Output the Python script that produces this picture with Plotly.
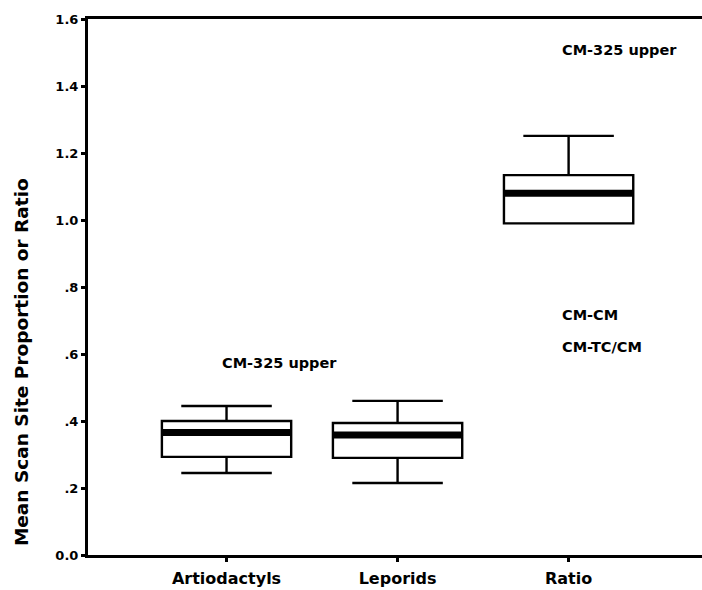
import plotly.graph_objects as go

# Summary statistics for each group
categories = ["Artiodactyls", "Leporids", "Ratio"]
lower_whisker = [0.245, 0.215, 0.990]
q1_values = [0.293, 0.290, 0.990]
medians = [0.366, 0.358, 1.080]
q3_values = [0.400, 0.394, 1.134]
upper_whisker = [0.445, 0.460, 1.251]

# Labelled extreme cases: (group index, value, label)
outlier_groups = [0, 2, 2, 2]
outlier_values = [0.573, 1.507, 0.716, 0.621]
outlier_labels = ["CM-325 upper", "CM-325 upper", "CM-CM", "CM-TC/CM"]

y_ticks = [0.0, 0.2, 0.4, 0.6, 0.8, 1.0, 1.2, 1.4, 1.6]
y_tick_text = ["0.0", ".2", ".4", ".6", ".8", "1.0", "1.2", "1.4", "1.6"]
y_title = "Mean Scan Site Proportion or Ratio"

FONT = "DejaVu Sans, Verdana, sans-serif"
BOX_WIDTH = 0.756

fig = go.Figure()

for i, name in enumerate(categories):
    fig.add_trace(go.Box(
        x=[i], q1=[q1_values[i]], median=[medians[i]], q3=[q3_values[i]],
        lowerfence=[lower_whisker[i]], upperfence=[upper_whisker[i]],
        width=BOX_WIDTH, whiskerwidth=0.7, boxpoints=False,
        fillcolor="white", line=dict(color="black", width=2.4),
        name=name, showlegend=False, hoverinfo="skip",
    ))
    # heavy median bar
    fig.add_trace(go.Scatter(
        x=[i - BOX_WIDTH / 2, i + BOX_WIDTH / 2], y=[medians[i], medians[i]],
        mode="lines", line=dict(color="black", width=7),
        showlegend=False, hoverinfo="skip",
    ))

# Case labels
offsets = {0: -0.04, 2: -0.05}
for g, v, lab in zip(outlier_groups, outlier_values, outlier_labels):
    fig.add_annotation(
        x=g + offsets[g], y=v, xref="x", yref="y", text=lab, showarrow=False,
        xanchor="left", yanchor="middle",
        font=dict(family=FONT, size=14.5, color="black", weight="bold"),
    )

# Vertical axis title
fig.add_annotation(
    x=-0.109, y=0.36, xref="paper", yref="paper", text=y_title,
    textangle=-90, showarrow=False, xanchor="center", yanchor="middle",
    font=dict(family=FONT, size=18.5, color="black", weight="bold"),
)

fig.update_layout(
    width=702, height=590,
    margin=dict(l=88, r=0, t=19, b=35),
    paper_bgcolor="white", plot_bgcolor="white",
    showlegend=False,
    font=dict(family=FONT, color="black"),
)

fig.update_xaxes(
    range=[-0.81, 2.78], tickmode="array", tickvals=[0, 1, 2], ticktext=categories,
    showgrid=False, zeroline=False, showline=True, linecolor="black", linewidth=3,
    mirror=True, ticks="outside", ticklen=4, tickwidth=3, tickcolor="black",
    ticklabelstandoff=3,
    tickfont=dict(family=FONT, size=16, color="black", weight="bold"),
)
fig.update_yaxes(
    range=[0, 1.6], tickmode="array", tickvals=y_ticks, ticktext=y_tick_text,
    showgrid=False, zeroline=False, showline=True, linecolor="black", linewidth=3,
    ticks="outside", ticklen=4, tickwidth=3, tickcolor="black",
    tickfont=dict(family=FONT, size=13, color="black", weight="bold"),
)

fig.write_html("out.html")
